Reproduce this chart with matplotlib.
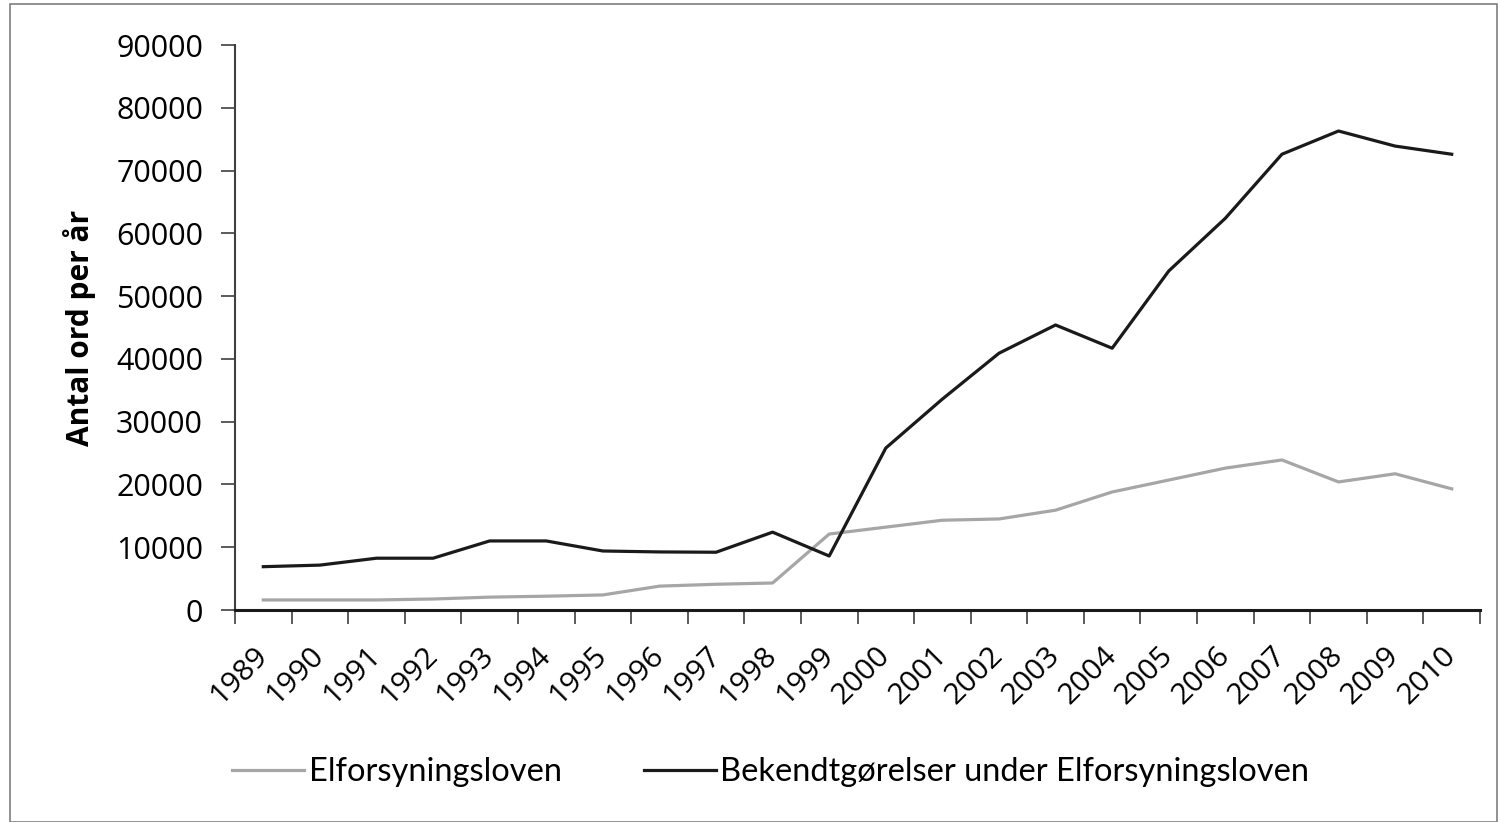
import matplotlib
matplotlib.use("Agg")
import matplotlib.pyplot as plt
from matplotlib.patches import Rectangle
import numpy as np

years = [str(y) for y in range(1989, 2011)]
elforsyningsloven = [1600, 1600, 1600, 1750, 2050, 2200, 2400, 3800, 4100, 4300,
                     12100, 13200, 14300, 14500, 15900, 18800, 20700, 22600, 23900,
                     20400, 21700, 19300]
bekendtgorelser = [6900, 7150, 8250, 8250, 11000, 11000, 9400, 9250, 9200, 12400,
                   8600, 25800, 33600, 40900, 45400, 41700, 54000, 62400, 72600,
                   76300, 73900, 72600]
series_labels = ["Elforsyningsloven", "Bekendtgørelser under Elforsyningsloven"]
y_ticks = list(range(0, 90001, 10000))

plt.rcParams['font.family'] = ['Open Sans', 'DejaVu Sans']

W, H = 1501, 822
fig = plt.figure(figsize=(W / 100, H / 100), dpi=100)
fig.patches.append(Rectangle((10 / W, 0), (1497 - 10) / W, 1 - 4 / H,
                             transform=fig.transFigure, fill=False,
                             edgecolor='#7f7f7f', linewidth=1.2))

ax = fig.add_axes([235 / W, 1 - 610 / H, (1480 - 235) / W, (610 - 45) / H])
x = np.arange(len(years)) + 0.5
l1, = ax.plot(x, elforsyningsloven, color='#a6a6a6', linewidth=2.3,
              label=series_labels[0], solid_joinstyle='round')
l2, = ax.plot(x, bekendtgorelser, color='#1a1a1a', linewidth=2.3,
              label=series_labels[1], solid_joinstyle='round')

ax.set_xlim(0, len(years))
ax.set_ylim(0, 90000)
ax.set_yticks(y_ticks)
ax.set_yticklabels([str(t) for t in y_ticks], fontsize=22)
ax.set_xticks(np.arange(len(years) + 1))
ax.set_xticklabels([])
ax.set_xticks(x, minor=True)
ax.set_xticklabels(years, minor=True, rotation=45, ha='right', va='center',
                   rotation_mode='anchor', fontsize=21.5)
ax.tick_params(axis='x', which='minor', length=0, pad=30)
ax.tick_params(axis='x', which='major', length=10, width=1.2, color='#404040', direction='out')
ax.tick_params(axis='y', length=10, width=1.2, color='#404040', pad=13, direction='out')

for s in ['top', 'right']:
    ax.spines[s].set_visible(False)
ax.spines['left'].set_color('#404040')
ax.spines['left'].set_linewidth(1.5)
ax.spines['bottom'].set_color('#1a1a1a')
ax.spines['bottom'].set_linewidth(2.2)

fig.text(80 / W, 1 - 328 / H, "Antal ord per år", rotation=90, ha='center', va='center',
         fontsize=21.5, fontweight='bold')

fig.legend(handles=[l1, l2], labels=series_labels, loc='center',
           bbox_to_anchor=(771 / W, 1 - 772 / H), ncol=2, frameon=False,
           prop={'family': 'Lato', 'size': 23.5}, handlelength=2.2,
           handletextpad=0.15, columnspacing=2.5)

fig.savefig("out.png", dpi=100)
